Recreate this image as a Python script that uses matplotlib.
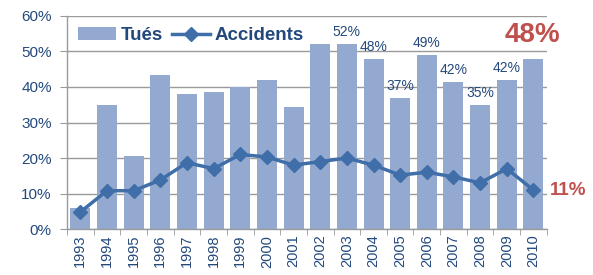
import matplotlib

matplotlib.use("Agg")
import matplotlib.pyplot as plt
import numpy as np

years = [str(y) for y in range(1993, 2011)]
tues = [6, 35, 20.5, 43.5, 38, 38.5, 40, 42, 34.5, 52, 52, 48, 37, 49, 41.5, 35, 42, 48]
accidents = [4.8, 10.8, 10.8, 13.8, 18.7, 17, 21, 20.3, 18, 19, 20, 18, 15.2, 16, 14.7, 13, 17, 11]
labelled = {"2003": "52%", "2004": "48%", "2005": "37%", "2006": "49%",
            "2007": "42%", "2008": "35%", "2009": "42%"}

BAR = "#94a9cf"
LINE = "#3f6ea8"
TEXT = "#23497c"
RED = "#c0504d"
GRID = "#9a9a9a"

plt.rcParams["font.family"] = ["Liberation Sans", "DejaVu Sans"]

fig = plt.figure(figsize=(5.93, 2.75), dpi=100)
ax = fig.add_axes([0.113, 0.167, 0.809, 0.775])

x = np.arange(len(years))
bars = ax.bar(x, tues, width=0.75, color=BAR, label="Tués", zorder=2)
line, = ax.plot(x, accidents, color=LINE, lw=2.5, marker="D", ms=7, label="Accidents", zorder=3)

for i, yr in enumerate(years):
    if yr in labelled:
        ax.text(i, tues[i] + 1.4, labelled[yr], ha="center", va="bottom",
                fontsize=10, color=TEXT, zorder=4)

ax.set_xlim(-0.5, len(years) - 0.5)
ax.set_ylim(0, 60)
ax.set_yticks(np.arange(0, 61, 10))
ax.set_yticklabels([f"{v}%" for v in range(0, 61, 10)], fontsize=11, color=TEXT)
ax.set_xticks(x)
ax.set_xticklabels(years, rotation=90, fontsize=10.5, color=TEXT)
ax.tick_params(axis="x", length=0, pad=4)
ax.set_xticks(np.arange(-0.5, len(years), 1), minor=True)
ax.tick_params(axis="x", which="minor", length=4, color=GRID)
ax.tick_params(axis="y", length=5, color=GRID, pad=6)

ax.yaxis.grid(True, color=GRID, lw=1, zorder=0)
ax.set_axisbelow(True)
for side in ["top", "right"]:
    ax.spines[side].set_visible(False)
for side in ["left", "bottom"]:
    ax.spines[side].set_color(GRID)
    ax.spines[side].set_linewidth(1)

leg = ax.legend([bars, line], ["Tués", "Accidents"], loc="upper left",
                bbox_to_anchor=(0.0, 1.0), ncol=2, frameon=False,
                prop={"weight": "bold", "size": 13.5}, handlelength=2.0,
                handletextpad=0.25, columnspacing=0.5, borderaxespad=0.2)
for t in leg.get_texts():
    t.set_color(TEXT)

ax.text(16.95, 54.6, "48%", ha="center", va="center", fontsize=20, fontweight="bold",
        color=RED, clip_on=False)
ax.text(17.62, 11, "11%", ha="left", va="center", fontsize=13.5, fontweight="bold",
        color=RED, clip_on=False)

fig.savefig("out.png", dpi=100)
